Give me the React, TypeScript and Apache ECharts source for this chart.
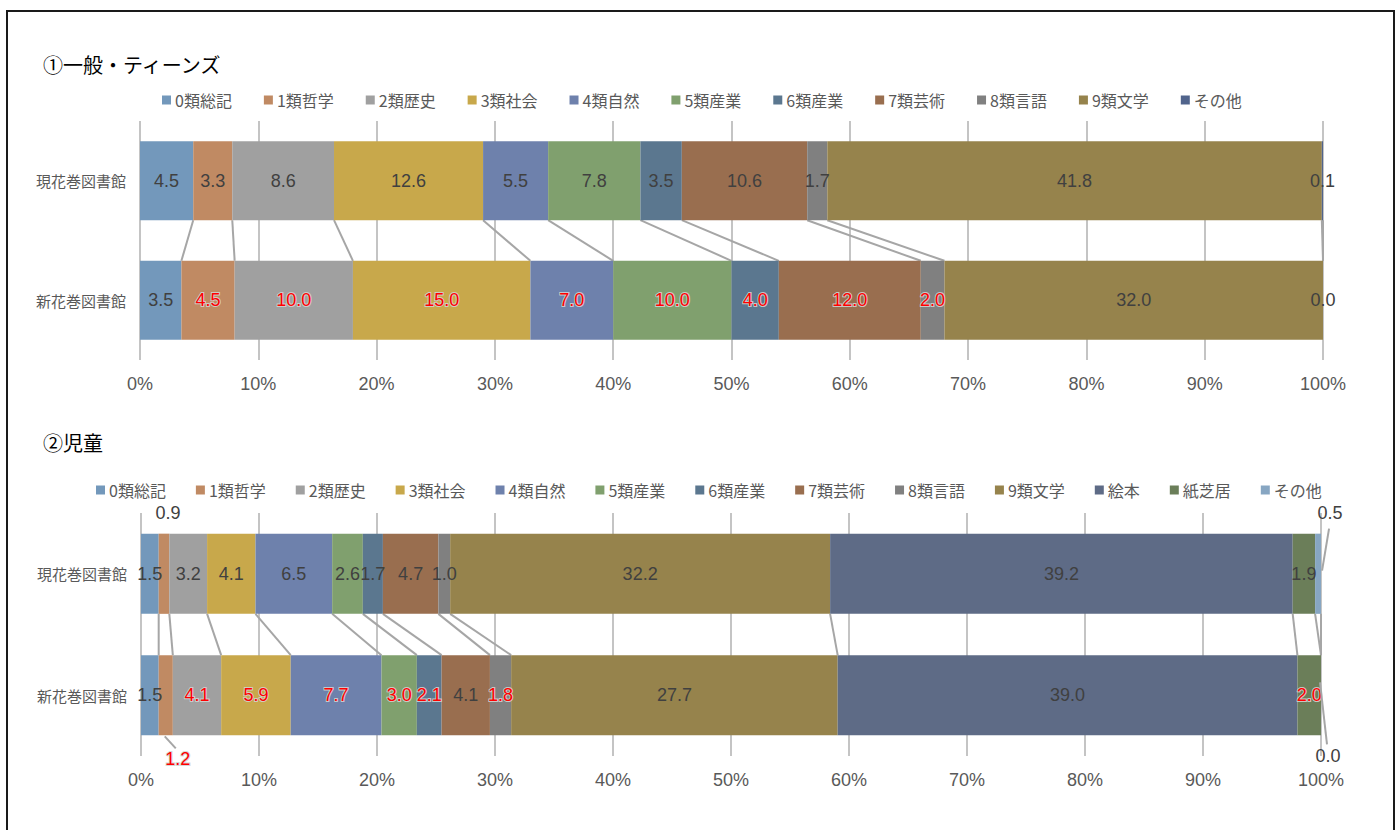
import React, { useEffect, useRef } from "react";
import * as echarts from "echarts";

// Rows on the category axis (first = bottom bar)
const rows = ["新花巻図書館", "現花巻図書館"];

// ① 一般・ティーンズ
const teenTitle = "①一般・ティーンズ";
const teenCategories = ["0類総記", "1類哲学", "2類歴史", "3類社会", "4類自然", "5類産業", "6類産業", "7類芸術", "8類言語", "9類文学", "その他"];
const teenCurrent = [4.5, 3.3, 8.6, 12.6, 5.5, 7.8, 3.5, 10.6, 1.7, 41.8, 0.1];
const teenNew = [3.5, 4.5, 10.0, 15.0, 7.0, 10.0, 4.0, 12.0, 2.0, 32.0, 0.0];

// ② 児童
const childTitle = "②児童";
const childCategories = ["0類総記", "1類哲学", "2類歴史", "3類社会", "4類自然", "5類産業", "6類産業", "7類芸術", "8類言語", "9類文学", "絵本", "紙芝居", "その他"];
const childCurrent = [1.5, 0.9, 3.2, 4.1, 6.5, 2.6, 1.7, 4.7, 1.0, 32.2, 39.2, 1.9, 0.5];
const childNew = [1.5, 1.2, 4.1, 5.9, 7.7, 3.0, 2.1, 4.1, 1.8, 27.7, 39.0, 2.0, 0.0];

// x axis ticks (percent)
const xMin = 0;
const xMax = 100;
const xInterval = 10;

const baseColors = ["#7398bb", "#c08a63", "#a0a0a0", "#c8a84b", "#6e81ac", "#80a06e", "#5b778f", "#996e4f", "#808080", "#96834c"];
const teenColors = [...baseColors, "#51648c"];
const childColors = [...baseColors, "#5e6b86", "#6b7e59", "#87a6c2"];

const NUM_FONT = '"Liberation Sans", Arial, "Noto Sans CJK JP", sans-serif';
const JP_FONT = '"Noto Sans CJK JP", "Noto Sans", sans-serif';
const BAR_RATIO = 0.66;
const DARK = "#404040";
const RED = "#ff0000";

type Outside = {
  row: number; // 1 = top bar, 0 = bottom bar
  index: number;
  dx: number;
  dy: number;
  leader?: [number, number, number, number]; // from (seg+dx0, edge+dy0) to (label+dx1, label+dy1)
};

const childOutside: Outside[] = [
  { row: 1, index: 1, dx: 4, dy: -21 },
  { row: 1, index: 12, dx: 12, dy: -21, leader: [4, 37, -1, 16] },
  { row: 0, index: 1, dx: 12, dy: 24, leader: [-1, 1, -2, -11] },
  { row: 0, index: 12, dx: 7, dy: 21, leader: [-1, -53, -1, -12] },
];

function cumulative(a: number[]) {
  const out: number[] = [];
  let s = 0;
  a.forEach((v) => {
    s += v;
    out.push(s);
  });
  return out;
}

function buildOption(cfg: {
  title: string;
  titleTop: number;
  legendTop: number;
  legendLeft: number;
  legendGap: number;
  grid: { left: number; top: number; width: number; height: number };
  categories: string[];
  current: number[];
  next: number[];
  colors: string[];
  outside: Outside[];
}) {
  const { categories, current, next, colors, outside } = cfg;
  const sumC = current.reduce((a, b) => a + b, 0);
  const sumN = next.reduce((a, b) => a + b, 0);
  const normC = current.map((v) => (v / sumC) * 100);
  const normN = next.map((v) => (v / sumN) * 100);
  const cumC = cumulative(normC);
  const cumN = cumulative(normN);
  const findOut = (row: number, i: number) => outside.find((o) => o.row === row && o.index === i);
  const isRed = (row: number, i: number) => row === 0 && next[i] > current[i];

  const labelStyle = (row: number, i: number) => {
    const red = isRed(row, i);
    return {
      show: !findOut(row, i),
      color: red ? RED : DARK,
      textBorderColor: red ? "rgba(210,210,210,0.9)" : "transparent",
      textBorderWidth: red ? 2 : 0,
    };
  };

  const barSeries = categories.map((name, i) => ({
    type: "bar",
    name,
    stack: "total",
    barWidth: BAR_RATIO * 100 + "%",
    itemStyle: { color: colors[i] },
    z: 2,
    label: {
      show: true,
      position: "inside",
      fontSize: 18,
      fontFamily: NUM_FONT,
      formatter: (p: any) => (p.dataIndex === 0 ? next[i] : current[i]).toFixed(1),
    },
    data: [
      { value: normN[i], label: labelStyle(0, i) },
      { value: normC[i], label: labelStyle(1, i) },
    ],
  }));

  const seriesLines = {
    type: "custom",
    name: "__seriesLines",
    silent: true,
    z: 1,
    encode: { x: [0, 1], y: 2 },
    data: categories.map((_, i) => [cumC[i], cumN[i], 0]),
    renderItem: (_params: any, api: any) => {
      const band = api.size([0, 1])[1];
      const half = (band * BAR_RATIO) / 2;
      const top = api.coord([api.value(0), 1]);
      const bot = api.coord([api.value(1), 0]);
      return {
        type: "line",
        shape: { x1: top[0], y1: top[1] + half, x2: bot[0], y2: bot[1] - half },
        style: { stroke: "#a6a6a6", lineWidth: 2 },
      };
    },
  };

  const outsideLabels = {
    type: "custom",
    name: "__outside",
    silent: true,
    z: 5,
    encode: { x: 0, y: 1 },
    data: outside.map((o) => {
      const center = o.row === 1 ? cumC[o.index] - normC[o.index] / 2 : cumN[o.index] - normN[o.index] / 2;
      return [center, o.row];
    }),
    renderItem: (params: any, api: any) => {
      const o = outside[params.dataIndex];
      const band = api.size([0, 1])[1];
      const half = (band * BAR_RATIO) / 2;
      const p = api.coord([api.value(0), api.value(1)]);
      const edge = o.dy < 0 ? p[1] - half : p[1] + half;
      const lx = p[0] + o.dx;
      const ly = edge + o.dy;
      const value = o.row === 1 ? current[o.index] : next[o.index];
      const red = isRed(o.row, o.index);
      const children: any[] = [];
      if (o.leader) {
        const [a, b, c, d] = o.leader;
        children.push({
          type: "line",
          shape: { x1: p[0] + a, y1: edge + b, x2: lx + c, y2: ly + d },
          style: { stroke: "#a6a6a6", lineWidth: 2 },
        });
      }
      children.push({
        type: "text",
        x: lx,
        y: ly,
        style: {
          text: value.toFixed(1),
          fill: red ? RED : DARK,
          fontSize: 18,
          fontFamily: NUM_FONT,
          align: "center",
          verticalAlign: "middle",
          stroke: red ? "rgba(210,210,210,0.9)" : undefined,
          lineWidth: red ? 2 : 0,
        },
      });
      return { type: "group", children };
    },
  };

  return {
    animation: false,
    title: {
      text: cfg.title,
      left: 38,
      top: cfg.titleTop,
      textStyle: { fontSize: 20, fontWeight: "normal", color: "#000", fontFamily: JP_FONT },
    },
    legend: {
      data: categories,
      left: cfg.legendLeft,
      top: cfg.legendTop,
      icon: "rect",
      itemWidth: 9,
      itemHeight: 9,
      itemGap: cfg.legendGap,
      selectedMode: false,
      textStyle: { fontSize: 16, color: "#595959", fontFamily: JP_FONT, padding: [0, 0, 0, -1] },
    },
    grid: { ...cfg.grid, containLabel: false },
    xAxis: {
      type: "value",
      min: xMin,
      max: xMax,
      interval: xInterval,
      axisLine: { show: false },
      axisTick: { show: false },
      axisLabel: { formatter: "{value}%", fontSize: 18, color: "#595959", fontFamily: NUM_FONT, margin: 15 },
      splitLine: { show: true, lineStyle: { color: "#c4c4c4", width: 2 } },
    },
    yAxis: {
      type: "category",
      data: rows,
      axisLine: { show: false },
      axisTick: { show: false },
      axisLabel: { fontSize: 15, color: "#595959", fontFamily: JP_FONT, margin: 14 },
    },
    series: [...barSeries, seriesLines, outsideLabels],
  };
}

function Chart({ option, style }: { option: any; style: React.CSSProperties }) {
  const ref = useRef<HTMLDivElement>(null);
  useEffect(() => {
    if (!ref.current) return;
    const chart = echarts.init(ref.current, undefined, { renderer: "svg" });
    chart.setOption(option);
    return () => chart.dispose();
  }, [option]);
  return <div ref={ref} style={style} />;
}

const teenOption = buildOption({
  title: teenTitle,
  titleTop: 49,
  legendTop: 87,
  legendLeft: 157,
  legendGap: 32,
  grid: { left: 140, top: 121, width: 1183, height: 239 },
  categories: teenCategories,
  current: teenCurrent,
  next: teenNew,
  colors: teenColors,
  outside: [],
});

const childOption = buildOption({
  title: childTitle,
  titleTop: 12,
  legendTop: 62,
  legendLeft: 91,
  legendGap: 30,
  grid: { left: 141, top: 98, width: 1180, height: 243 },
  categories: childCategories,
  current: childCurrent,
  next: childNew,
  colors: childColors,
  outside: childOutside,
});

export default function App() {
  return (
    <div style={{ position: "absolute", left: 0, top: 0, width: 1400, height: 830, background: "#fff", overflow: "hidden" }}>
      <div
        style={{
          position: "absolute",
          left: 6,
          top: 10,
          width: 1389,
          height: 850,
          border: "2px solid #1a1a1a",
          boxSizing: "border-box",
        }}
      />
      <Chart option={teenOption} style={{ position: "absolute", left: 0, top: 0, width: 1400, height: 415 }} />
      <Chart option={childOption} style={{ position: "absolute", left: 0, top: 415, width: 1400, height: 415 }} />
    </div>
  );
}
